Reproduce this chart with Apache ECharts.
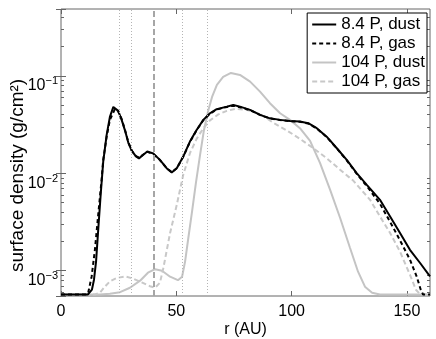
<!DOCTYPE html>
<html>
<head>
<meta charset="utf-8">
<script src="https://cdn.jsdelivr.net/npm/echarts@6/dist/echarts.min.js"></script>
<style>
html, body { margin: 0; padding: 0; background: #fff; }
#chart { width: 436px; height: 339px; }
</style>
</head>
<body>
<div id="chart"></div>
<script>
var FONT = '"Liberation Sans", Arial, Helvetica, sans-serif';

// r (AU) and surface density (g/cm^2)
var r84dust = [0, 11.7, 13.4, 14.3, 15.2, 16.2, 17.2, 18.3, 19.8, 21.2, 22.7, 23.4, 24.8, 26.3, 27.8,
    29.2, 30.7, 32.5, 33.8, 35.7, 37.4, 40.0, 42.9, 45.8, 48.0, 50.2, 53.0, 55.9, 58.8, 61.7,
    64.6, 67.5, 71.9, 74.7, 77.6, 82.0, 86.3, 90.6, 95.0, 99.3, 103.6, 107.2, 110.9, 115.2, 119.6,
    123.9, 128.2, 132.6, 138.3, 142.7, 147.0, 151.3, 155.7, 160];
var sig84dust = [5.7e-4, 5.7e-4, 6.38e-4, 8.09e-4, 1.24e-3, 2.76e-3, 6.02e-3, 0.0131, 0.0248, 0.0380, 0.0481, 0.0492, 0.0438, 0.0354, 0.0273,
    0.0206, 0.0170, 0.0149, 0.01425, 0.0155, 0.0168, 0.0160, 0.01375, 0.0113, 0.0102, 0.0113, 0.01486, 0.0212, 0.0279, 0.0354,
    0.0414, 0.0456, 0.0484, 0.0504, 0.0484, 0.0448, 0.0398, 0.0367, 0.0354, 0.0345, 0.0340, 0.0327, 0.0291, 0.0238, 0.0181,
    0.01375, 0.01005, 0.00762, 0.00535, 0.00361, 0.00244, 0.00164, 0.00120, 8.74e-4];

var r84gas = [0, 10.8, 11.8, 13.3, 14.7, 16.2, 17.6, 18.3, 19.8, 21.2, 23.4, 24.7, 26.3, 27.8, 29.2,
    30.7, 32.5, 33.8, 35.7, 37.4, 40.0, 42.9, 45.8, 48.0, 50.2, 53.0, 55.9, 58.8, 61.7, 64.6,
    67.5, 71.9, 74.7, 77.6, 82.0, 86.3, 90.6, 95.0, 99.3, 103.6, 107.2, 110.9, 115.2, 119.6, 123.9,
    128.2, 132.6, 138.3, 144.1, 148.4, 151.3, 154.2, 156.0, 157.0, 160];
var sig84gas = [5.7e-4, 5.7e-4, 5.95e-4, 8.74e-4, 1.64e-3, 3.91e-3, 8.58e-3, 0.0137, 0.0238, 0.0354, 0.0459, 0.0438, 0.0362, 0.0275, 0.0208,
    0.0171, 0.0150, 0.0145, 0.0156, 0.0166, 0.0158, 0.0137, 0.0113, 0.0103, 0.0113, 0.0148, 0.0210, 0.0277, 0.0351, 0.0410,
    0.0452, 0.0480, 0.0495, 0.0478, 0.0445, 0.0398, 0.0366, 0.0353, 0.0344, 0.0338, 0.0325, 0.0289, 0.0236, 0.0180, 0.0136,
    0.0099, 0.0074, 0.00487, 0.00276, 0.00177, 0.00130, 8.74e-4, 6.38e-4, 5.7e-4, 5.7e-4];

var r104dust = [0, 16.9, 21.2, 25.6, 29.9, 34.3, 37.7, 40.8, 43.8, 47.3, 50.7, 52.5, 53.8, 55.1, 56.8,
    58.5, 60.3, 62.0, 63.7, 65.5, 67.6, 70.3, 73.7, 77.6, 82.0, 86.3, 90.6, 95.0, 99.3, 103.6,
    108.0, 112.3, 116.7, 121.0, 125.3, 128.8, 131.8, 134.9, 138.3, 160];
var sig104dust = [5.7e-4, 5.7e-4, 5.81e-4, 6.02e-4, 6.69e-4, 7.9e-4, 9.54e-4, 1.036e-3, 1.0e-3, 8.68e-4, 7.99e-4, 8.68e-4, 1.24e-3, 2.08e-3, 4.03e-3,
    7.99e-3, 0.0155, 0.0279, 0.0428, 0.0609, 0.0809, 0.0977, 0.1074, 0.1024, 0.0874, 0.0690, 0.0525, 0.0414, 0.0354, 0.0291,
    0.0215, 0.0128, 0.00677, 0.0035, 0.00172, 9.77e-4, 6.86e-4, 5.95e-4, 5.7e-4, 5.7e-4];

var r104gas = [0, 14.7, 16.9, 19.1, 21.2, 24.2, 27.8, 31.4, 35.0, 38.6, 40.8, 42.9, 44.4, 47.3, 50.2,
    53.0, 55.9, 58.8, 61.7, 64.6, 68.2, 71.9, 75.5, 80.5, 86.3, 92.1, 97.9, 103.6, 109.4, 115.2,
    121.0, 126.8, 134.0, 138.3, 142.7, 147.0, 151.3, 153.9, 155.7, 160];
var sig104gas = [5.7e-4, 5.7e-4, 5.95e-4, 6.9e-4, 7.77e-4, 8.42e-4, 8.74e-4, 8.28e-4, 7.59e-4, 6.93e-4, 6.69e-4, 7.53e-4, 1.07e-3, 2.44e-3, 4.75e-3,
    9.66e-3, 0.0161, 0.0226, 0.0290, 0.0350, 0.0403, 0.0438, 0.0459, 0.0448, 0.0408, 0.0330, 0.0276, 0.0226, 0.0181, 0.0143,
    0.0109, 0.00838, 0.00535, 0.00361, 0.00244, 0.00157, 9.1e-4, 6.38e-4, 5.74e-4, 5.7e-4];

// vertical guide lines
var resonanceR = [25.2, 30.5, 52.4, 63.5];
var planetR = [40];

// axes
var xMin = 0, xMax = 160;
var xTicks = [0, 50, 100, 150];
var yMin = 5.5e-4, yMax = 0.487;
var yMinorTicks = [6e-4, 7e-4, 8e-4, 9e-4,
    2e-3, 3e-3, 4e-3, 5e-3, 6e-3, 7e-3, 8e-3, 9e-3,
    2e-2, 3e-2, 4e-2, 5e-2, 6e-2, 7e-2, 8e-2, 9e-2,
    0.2, 0.3, 0.4];

var AXIS_COLOR = '#666';

function pairs(xs, ys) {
    var out = [];
    for (var i = 0; i < xs.length; i++) out.push([xs[i], ys[i]]);
    return out;
}

function decadeLabel(v) {
    var lg = Math.log10(v);
    var e = Math.round(lg);
    if (Math.abs(lg - e) > 1e-6) return '';
    return '{b|10}{s|\u2212' + Math.abs(e) + '}';
}

function xAxisCfg(pos) {
    return {
        type: 'value',
        position: pos,
        min: xMin,
        max: xMax,
        interval: 50,
        name: pos === 'bottom' ? 'r (AU)' : '',
        nameLocation: 'middle',
        nameGap: 26,
        nameMoveOverlap: false,
        nameTextStyle: { fontFamily: FONT, fontSize: 16, color: '#000' },
        axisLine: { show: false },
        splitLine: { show: false },
        axisTick: { show: true, inside: true, length: 5, customValues: xTicks, lineStyle: { color: AXIS_COLOR } },
        axisLabel: { show: pos === 'bottom', customValues: xTicks, margin: 8, fontFamily: FONT, fontSize: 16, color: '#000' }
    };
}

// log axis carrying the data + decade ticks
function yLogCfg(pos) {
    return {
        type: 'log',
        logBase: 10,
        position: pos,
        min: yMin,
        max: yMax,
        name: pos === 'left' ? 'surface density (g/cm\u00b2)' : '',
        nameLocation: 'middle',
        nameGap: 34,
        nameMoveOverlap: false,
        nameTextStyle: { fontFamily: FONT, fontSize: 19, color: '#000', padding: [0, 46, 0, 0] },
        axisLine: { show: false },
        splitLine: { show: false },
        minorTick: { show: false },
        axisTick: { show: true, inside: true, length: 5, lineStyle: { color: AXIS_COLOR } },
        axisLabel: {
            show: pos === 'left',
            margin: 3,
            verticalAlign: 'top',
            formatter: decadeLabel,
            rich: {
                b: { fontFamily: FONT, fontSize: 16, color: '#000', lineHeight: 18, verticalAlign: 'bottom' },
                s: { fontFamily: FONT, fontSize: 11, color: '#000', lineHeight: 12, verticalAlign: 'top' }
            }
        }
    };
}

// same range in log10 units, only used to place the 2..9 minor ticks
function yMinorCfg(pos) {
    return {
        type: 'value',
        position: pos,
        min: Math.log10(yMin),
        max: Math.log10(yMax),
        axisLine: { show: false },
        splitLine: { show: false },
        axisLabel: { show: false },
        axisTick: { show: true, inside: true, length: 3, customValues: yMinorTicks.map(Math.log10), lineStyle: { color: AXIS_COLOR } }
    };
}

var guideLines = [];
resonanceR.forEach(function (r) {
    guideLines.push({ xAxis: r, lineStyle: { color: '#b4b4b4', width: 1, type: [1, 2] } });
});
planetR.forEach(function (r) {
    guideLines.push({ xAxis: r, lineStyle: { color: '#a6a6a6', width: 2, type: [6, 3] } });
});

var chart = echarts.init(document.getElementById('chart'), null, { renderer: 'canvas' });
chart.setOption({
    animation: false,
    backgroundColor: '#fff',
    grid: {
        left: 61, right: 6, top: 9, bottom: 43,
        containLabel: false,
        outerBoundsMode: 'none',
        show: true, borderColor: AXIS_COLOR, borderWidth: 1, backgroundColor: 'transparent'
    },
    legend: {
        data: ['8.4 P, dust', '8.4 P, gas', '104 P, dust', '104 P, gas'],
        orient: 'vertical',
        right: 9,
        top: 13,
        backgroundColor: '#fff',
        borderColor: '#000',
        borderWidth: 1,
        borderRadius: 0,
        padding: [3, 2, 3, 4],
        itemWidth: 24,
        itemHeight: 12,
        itemGap: 2,
        selectedMode: false,
        itemStyle: { opacity: 0 },
        textStyle: { fontFamily: FONT, fontSize: 17, color: '#000' }
    },
    xAxis: [xAxisCfg('bottom'), xAxisCfg('top')],
    yAxis: [yLogCfg('left'), yLogCfg('right'), yMinorCfg('left'), yMinorCfg('right')],
    series: [{
        name: '8.4 P, dust',
        type: 'line',
        z: 4,
        symbol: 'none',
        data: pairs(r84dust, sig84dust),
        itemStyle: { color: '#000' },
        lineStyle: { color: '#000', width: 2 }
    }, {
        name: '8.4 P, gas',
        type: 'line',
        z: 3,
        symbol: 'none',
        data: pairs(r84gas, sig84gas),
        itemStyle: { color: '#000' },
        lineStyle: { color: '#000', width: 2, type: [4, 3] }
    }, {
        name: '104 P, dust',
        type: 'line',
        z: 2,
        symbol: 'none',
        data: pairs(r104dust, sig104dust),
        itemStyle: { color: '#c4c4c4' },
        lineStyle: { color: '#c4c4c4', width: 2 }
    }, {
        name: '104 P, gas',
        type: 'line',
        z: 2,
        symbol: 'none',
        data: pairs(r104gas, sig104gas),
        itemStyle: { color: '#c8c8c8' },
        lineStyle: { color: '#c8c8c8', width: 2, type: [5, 3] },
        markLine: {
            silent: true,
            symbol: 'none',
            label: { show: false },
            emphasis: { disabled: true },
            data: guideLines
        }
    }]
});
</script>
</body>
</html>
